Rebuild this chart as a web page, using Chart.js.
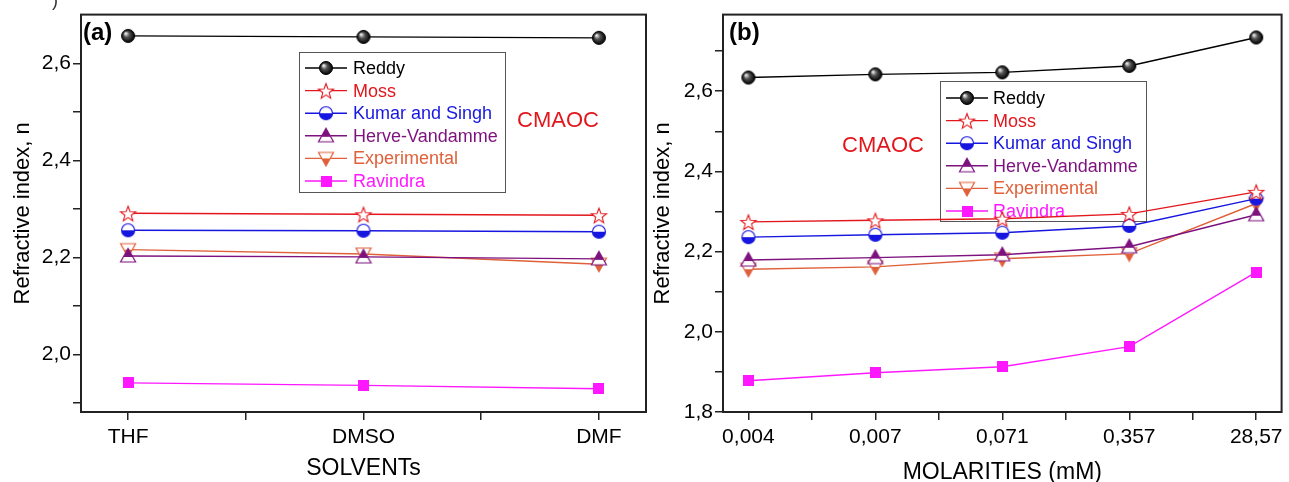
<!DOCTYPE html>
<html>
<head>
<meta charset="utf-8">
<script src="https://cdn.jsdelivr.net/npm/chart.js@4.4.1/dist/chart.umd.min.js"></script>
<style>
html, body { margin: 0; padding: 0; background: #fff; }
#wrap { position: relative; width: 1289px; height: 482px; overflow: hidden; }
canvas { position: absolute; top: 0; }
#chartA { left: 0; }
#chartB { left: 640px; }
</style>
</head>
<body>
<div id="wrap">
  <canvas id="chartA" width="660" height="482"></canvas>
  <canvas id="chartB" width="649" height="482"></canvas>
</div>
<script>
// categories
const solvents = ["THF", "DMSO", "DMF"];
const molarities = ["0,004", "0,007", "0,071", "0,357", "28,57"];
const seriesNames = ["Reddy", "Moss", "Kumar and Singh", "Herve-Vandamme", "Experimental", "Ravindra"];

// panel (a) - refractive index vs solvent
const solventReddy = [2.657, 2.655, 2.653];
const solventMoss = [2.291, 2.289, 2.287];
const solventKumar = [2.256, 2.255, 2.253];
const solventHerve = [2.203, 2.201, 2.197];
const solventExperimental = [2.216, 2.207, 2.186];
const solventRavindra = [1.941, 1.936, 1.929];

// panel (b) - refractive index vs molarity
const molarReddy = [2.634, 2.642, 2.647, 2.663, 2.734];
const molarMoss = [2.274, 2.278, 2.282, 2.294, 2.349];
const molarKumar = [2.236, 2.242, 2.247, 2.264, 2.332];
const molarHerve = [2.179, 2.185, 2.192, 2.212, 2.292];
const molarExperimental = [2.156, 2.162, 2.182, 2.195, 2.320];
const molarRavindra = [1.878, 1.898, 1.913, 1.963, 2.149];

// y tick values and labels
const yTicksA = [1.9, 2.0, 2.1, 2.2, 2.3, 2.4, 2.5, 2.6];
const yLabelsA = ["", "2,0", "", "2,2", "", "2,4", "", "2,6"];
const yTicksB = [1.8, 1.9, 2.0, 2.1, 2.2, 2.3, 2.4, 2.5, 2.6, 2.7];
const yLabelsB = ["1,8", "", "2,0", "", "2,2", "", "2,4", "", "2,6", ""];

const colors = ["#000000", "#e3161c", "#1616e0", "#7d127f", "#e0603a", "#ff18ff"];
const FONT = "'Liberation Sans', Arial, sans-serif";

// ---- marker images ----
function newCanvas(s) {
    var c = document.createElement("canvas");
    c.width = s; c.height = s;
    return c;
}

function sphereMarker(r) {
    var s = 2 * r + 3, c = newCanvas(s), g = c.getContext("2d"), m = s / 2;
    var grad = g.createRadialGradient(m - r * 0.4, m - r * 0.4, 0.5, m, m, r);
    grad.addColorStop(0, "#f0f0f0");
    grad.addColorStop(0.4, "#555");
    grad.addColorStop(1, "#000");
    g.beginPath(); g.arc(m, m, r, 0, Math.PI * 2);
    g.fillStyle = grad; g.fill();
    g.lineWidth = 1; g.strokeStyle = "#000"; g.stroke();
    return c;
}

function starMarker(R, color) {
    var s = 2 * R + 4, c = newCanvas(s), g = c.getContext("2d"), m = s / 2;
    g.beginPath();
    for (var i = 0; i < 10; i++) {
        var rr = i % 2 ? R * 0.42 : R;
        var a = -Math.PI / 2 + i * Math.PI / 5;
        g.lineTo(m + rr * Math.cos(a), m + 1 + rr * Math.sin(a));
    }
    g.closePath();
    g.fillStyle = "#fff"; g.fill();
    g.lineWidth = 1.1; g.strokeStyle = color; g.stroke();
    return c;
}

function halfCircleMarker(r, color) {
    var s = 2 * r + 3, c = newCanvas(s), g = c.getContext("2d"), m = s / 2;
    g.beginPath(); g.arc(m, m, r, 0, Math.PI * 2);
    g.fillStyle = "#fff"; g.fill();
    g.save(); g.clip();
    g.fillStyle = color; g.fillRect(0, m, s, s);
    g.restore();
    g.lineWidth = 1.2; g.strokeStyle = color; g.stroke();
    return c;
}

function triangleMarker(r, color, up) {
    var s = 2 * r + 3, c = newCanvas(s), g = c.getContext("2d"), m = s / 2;
    g.beginPath();
    if (up) {
        g.moveTo(m, m - r); g.lineTo(m + r, m + r * 0.8); g.lineTo(m - r, m + r * 0.8);
    } else {
        g.moveTo(m - r, m - r * 0.8); g.lineTo(m + r, m - r * 0.8); g.lineTo(m, m + r);
    }
    g.closePath();
    g.fillStyle = "#fff"; g.fill();
    g.save(); g.clip();
    g.fillStyle = color;
    if (up) g.fillRect(0, 0, s, m + 1); else g.fillRect(0, m, s, s);
    g.restore();
    g.lineWidth = 1.2; g.strokeStyle = color; g.stroke();
    return c;
}

function squareMarker(a, color) {
    var c = newCanvas(a), g = c.getContext("2d");
    g.fillStyle = color; g.fillRect(0, 0, a, a);
    return c;
}

var markers = [
    sphereMarker(6.5),
    starMarker(8, colors[1]),
    halfCircleMarker(6.5, colors[2]),
    triangleMarker(7.5, colors[3], true),
    triangleMarker(7.5, colors[4], false),
    squareMarker(11, colors[5])
];

function toPoints(values) {
    return values.map(function(v, i) { return { x: i, y: v }; });
}

function buildDatasets(seriesList) {
    return seriesList.map(function(values, k) {
        return {
            label: seriesNames[k],
            data: toPoints(values),
            borderColor: colors[k],
            backgroundColor: colors[k],
            borderWidth: 1.4,
            pointStyle: markers[k],
            pointRadius: 6,
            tension: 0
        };
    });
}

// legend box drawn under the lines, plus frame and panel texts
var panelPlugin = {
    id: "panelPlugin",
    beforeDatasetsDraw: function(chart) {
        var L = chart.options.plugins.panelPlugin.legend;
        var ctx = chart.ctx;
        ctx.save();
        ctx.fillStyle = "#fff";
        ctx.fillRect(L.x0, L.y0, L.x1 - L.x0, L.y1 - L.y0);
        ctx.strokeStyle = "#555"; ctx.lineWidth = 1;
        ctx.strokeRect(L.x0 + 0.5, L.y0 + 0.5, L.x1 - L.x0, L.y1 - L.y0);
        chart.data.datasets.forEach(function(ds, i) {
            var y = L.row0 + i * L.gap;
            ctx.strokeStyle = ds.borderColor; ctx.lineWidth = 1.4;
            ctx.beginPath(); ctx.moveTo(L.lineX0, y); ctx.lineTo(L.lineX1, y); ctx.stroke();
            var img = ds.pointStyle;
            ctx.drawImage(img, (L.lineX0 + L.lineX1) / 2 - img.width / 2, y - img.height / 2);
            ctx.fillStyle = ds.borderColor;
            ctx.font = "18px " + FONT;
            ctx.textBaseline = "middle"; ctx.textAlign = "left";
            ctx.fillText(ds.label, L.textX, y + 1);
        });
        ctx.restore();
    },
    afterDraw: function(chart) {
        var o = chart.options.plugins.panelPlugin;
        var a = chart.chartArea, ctx = chart.ctx;
        ctx.save();
        ctx.strokeStyle = "#222"; ctx.lineWidth = 2;
        ctx.strokeRect(a.left, a.top, a.right - a.left, a.bottom - a.top);
        ctx.textBaseline = "middle";
        ctx.textAlign = "left"; ctx.fillStyle = "#000";
        ctx.font = "bold 24px " + FONT;
        ctx.fillText(o.tag, o.tagX, o.tagY);
        ctx.textAlign = "center"; ctx.fillStyle = "#e3161c";
        ctx.font = "22px " + FONT;
        ctx.fillText("CMAOC", o.noteX, o.noteY);
        if (o.stray) {
            ctx.fillStyle = "#333"; ctx.font = "18px " + FONT;
            ctx.textBaseline = "bottom";
            ctx.fillText(")", o.stray.x, o.stray.y);
        }
        ctx.restore();
    }
};

function makePanel(canvasId, cats, seriesList, yTicks, yLabels, yMin, yMax, xTitle, cfg) {
    var xTicks = [];
    for (var i = 0; i < cats.length; i++) {
        xTicks.push(i);
        if (i < cats.length - 1) xTicks.push(i + 0.5);
    }
    var ctx = document.getElementById(canvasId).getContext("2d");
    return new Chart(ctx, {
        type: "line",
        data: { datasets: buildDatasets(seriesList) },
        plugins: [panelPlugin],
        options: {
            responsive: false,
            animation: false,
            events: [],
            devicePixelRatio: 1,
            layout: { padding: { left: 0, top: 13, right: cfg.padRight, bottom: 0 } },
            plugins: {
                legend: { display: false },
                tooltip: { enabled: false },
                panelPlugin: cfg.panel
            },
            scales: {
                x: {
                    type: "linear",
                    min: -0.2,
                    max: cats.length - 1 + 0.2,
                    afterBuildTicks: function(s) { s.ticks = xTicks.map(function(v) { return { value: v }; }); },
                    afterFit: function(s) { s.height = 70; },
                    ticks: {
                        autoSkip: false, maxRotation: 0, minRotation: 0, padding: 5,
                        color: "#000", font: { size: 21, family: FONT },
                        callback: function(v) { return Number.isInteger(v) ? cats[v] : ""; }
                    },
                    grid: { drawOnChartArea: false, tickLength: 8, color: "#222", lineWidth: 1.5 },
                    border: { display: false },
                    title: {
                        display: true, text: xTitle, color: "#000",
                        font: { size: 23, family: FONT }, padding: { top: 0, bottom: cfg.xTitlePad }
                    }
                },
                y: {
                    min: yMin,
                    max: yMax,
                    afterBuildTicks: function(s) { s.ticks = yTicks.map(function(v) { return { value: v }; }); },
                    afterFit: function(s) { s.width = cfg.yWidth; },
                    ticks: {
                        autoSkip: false, padding: 2, color: "#000",
                        font: { size: 21, family: FONT },
                        callback: function(v, idx) { return yLabels[idx]; }
                    },
                    grid: { drawOnChartArea: false, tickLength: 8, color: "#222", lineWidth: 1.5 },
                    border: { display: false },
                    title: {
                        display: true, text: "Refractive index, n", color: "#000",
                        font: { size: 22, family: FONT }, padding: { top: 10, bottom: 0 }
                    }
                }
            }
        }
    });
}

document.addEventListener("DOMContentLoaded", function() {
    makePanel("chartA", solvents,
        [solventReddy, solventMoss, solventKumar, solventHerve, solventExperimental, solventRavindra],
        yTicksA, yLabelsA, 1.881, 2.701, "SOLVENTs",
        {
            padRight: 14, yWidth: 81, xTitlePad: 0,
            panel: {
                legend: { x0: 299, y0: 52, x1: 505, y1: 192, row0: 68, gap: 22.6, lineX0: 305, lineX1: 347, textX: 353 },
                tag: "(a)", tagX: 83, tagY: 33, noteX: 558, noteY: 121,
                stray: { x: 55, y: 10 }
            }
        });

    makePanel("chartB", molarities,
        [molarReddy, molarMoss, molarKumar, molarHerve, molarExperimental, molarRavindra],
        yTicksB, yLabelsB, 1.8, 2.791, "MOLARITIES (mM)",
        {
            padRight: 1, yWidth: 83, xTitlePad: -4,
            panel: {
                legend: { x0: 300, y0: 81, x1: 506, y1: 221, row0: 98, gap: 22.6, lineX0: 306, lineX1: 348, textX: 353 },
                tag: "(b)", tagX: 89, tagY: 33, noteX: 243, noteY: 146,
                stray: null
            }
        });
});
</script>
</body>
</html>
